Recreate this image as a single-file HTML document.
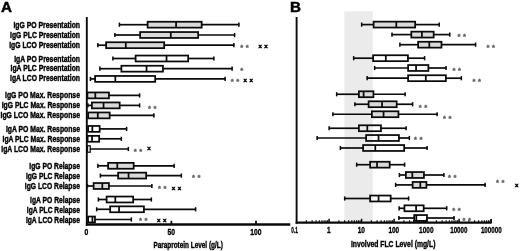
<!DOCTYPE html>
<html lang="en"><head><meta charset="utf-8"><title>Figure</title>
<style>
html,body{margin:0;padding:0;background:#fff;}
body{width:520px;height:251px;overflow:hidden;}
svg{display:block;}
text{font-family:"Liberation Sans", sans-serif;font-weight:bold;fill:#111;}
.lb{font-size:9.7px;fill:#000;stroke:#000;stroke-width:0.45px;}
.tk{font-size:9.6px;text-anchor:middle;fill:#000;stroke:#000;stroke-width:0.35px;}
.ti{font-size:9.4px;fill:#000;stroke:#000;stroke-width:0.4px;}
.pn{font-size:15.2px;fill:#000;stroke:#000;stroke-width:0.5px;}
.st{font-size:7.6px;fill:#606060;stroke:#606060;stroke-width:0.35px;text-anchor:middle;letter-spacing:2.55px;}
.xx{font-size:6.2px;fill:#000;stroke:#000;stroke-width:0.45px;text-anchor:middle;letter-spacing:2.55px;}
.ln line,.ln rect{stroke:#0a0a0a;stroke-width:1.75;}
.ln line.wh{stroke-width:1.7;}.ln line.cp{stroke-width:1.5;}.ln line.xa{stroke-width:2.4;}.ln line.ya{stroke-width:1.9;}
</style></head><body>
<svg width="520" height="251" viewBox="0 0 520 251">
<rect x="0" y="0" width="520" height="251" fill="#ffffff"/>
<rect x="344.4" y="11.3" width="28.4" height="211" fill="#ebebeb"/>
<text class="pn" x="1.1" y="12.0">A</text>
<text class="pn" x="289.9" y="12.0">B</text>
<text class="lb" x="13.4" y="28.20" textLength="66.6" lengthAdjust="spacingAndGlyphs">IgG PO Presentation</text>
<text class="lb" x="10.0" y="37.95" textLength="70.0" lengthAdjust="spacingAndGlyphs">IgG PLC Presentation</text>
<text class="lb" x="9.2" y="47.50" textLength="70.8" lengthAdjust="spacingAndGlyphs">IgG LCO Presentation</text>
<text class="lb" x="14.2" y="61.60" textLength="65.8" lengthAdjust="spacingAndGlyphs">IgA PO Presentation</text>
<text class="lb" x="10.5" y="71.45" textLength="69.5" lengthAdjust="spacingAndGlyphs">IgA PLC Presentation</text>
<text class="lb" x="10.0" y="81.20" textLength="70.0" lengthAdjust="spacingAndGlyphs">IgA LCO Presentation</text>
<text class="lb" x="5.0" y="98.40" textLength="75.0" lengthAdjust="spacingAndGlyphs">IgG PO Max. Response</text>
<text class="lb" x="1.7" y="108.10" textLength="78.3" lengthAdjust="spacingAndGlyphs">IgG PLC Max. Response</text>
<text class="lb" x="0.5" y="118.00" textLength="79.5" lengthAdjust="spacingAndGlyphs">IgG LCO Max. Response</text>
<text class="lb" x="5.9" y="132.40" textLength="74.1" lengthAdjust="spacingAndGlyphs">IgA PO Max. Response</text>
<text class="lb" x="2.5" y="142.10" textLength="77.5" lengthAdjust="spacingAndGlyphs">IgA PLC Max. Response</text>
<text class="lb" x="1.3" y="152.00" textLength="78.7" lengthAdjust="spacingAndGlyphs">IgA LCO Max. Response</text>
<text class="lb" x="29.3" y="168.90" textLength="50.7" lengthAdjust="spacingAndGlyphs">IgG PO Relapse</text>
<text class="lb" x="25.9" y="178.80" textLength="54.1" lengthAdjust="spacingAndGlyphs">IgG PLC Relapse</text>
<text class="lb" x="24.8" y="188.50" textLength="55.2" lengthAdjust="spacingAndGlyphs">IgG LCO Relapse</text>
<text class="lb" x="30.1" y="202.90" textLength="49.9" lengthAdjust="spacingAndGlyphs">IgA PO Relapse</text>
<text class="lb" x="26.8" y="212.80" textLength="53.2" lengthAdjust="spacingAndGlyphs">IgA PLC Relapse</text>
<text class="lb" x="25.9" y="222.50" textLength="54.1" lengthAdjust="spacingAndGlyphs">IgA LCO Relapse</text>
<g class="ln" fill="none">
<line class="wh" x1="119" y1="24.7" x2="147.5" y2="24.7"/>
<line class="cp" x1="119.40" y1="22.599999999999998" x2="119.40" y2="26.8"/>
<line class="wh" x1="201.5" y1="24.7" x2="239.35" y2="24.7"/>
<line class="cp" x1="238.85" y1="22.599999999999998" x2="238.85" y2="26.8"/>
<rect x="147.62" y="21.75" width="54.05" height="5.90" fill="#dadada"/>
<line x1="176.10000000000002" y1="21.75" x2="176.10000000000002" y2="27.65"/>
<line class="wh" x1="114.5" y1="35.0" x2="140.0" y2="35.0"/>
<line class="cp" x1="114.90" y1="32.9" x2="114.90" y2="37.1"/>
<line class="wh" x1="198.0" y1="35.0" x2="235.10" y2="35.0"/>
<line class="cp" x1="234.60" y1="32.9" x2="234.60" y2="37.1"/>
<rect x="140.12" y="32.05" width="58.05" height="5.90" fill="#dadada"/>
<line x1="170.8" y1="32.05" x2="170.8" y2="37.95"/>
<line class="wh" x1="97.5" y1="45.2" x2="106.0" y2="45.2"/>
<line class="cp" x1="97.90" y1="43.1" x2="97.90" y2="47.300000000000004"/>
<line class="wh" x1="164.0" y1="45.2" x2="234.35" y2="45.2"/>
<line class="cp" x1="233.85" y1="43.1" x2="233.85" y2="47.300000000000004"/>
<rect x="106.12" y="42.25" width="58.05" height="5.90" fill="#dadada"/>
<line x1="125.8" y1="42.25" x2="125.8" y2="48.150000000000006"/>
<line class="wh" x1="112.5" y1="58.5" x2="135.5" y2="58.5"/>
<line class="cp" x1="112.90" y1="56.4" x2="112.90" y2="60.6"/>
<line class="wh" x1="188.0" y1="58.5" x2="214.35" y2="58.5"/>
<line class="cp" x1="213.85" y1="56.4" x2="213.85" y2="60.6"/>
<rect x="135.62" y="55.55" width="52.55" height="5.90" fill="none"/>
<line x1="166.55" y1="55.55" x2="166.55" y2="61.45"/>
<line class="wh" x1="99.5" y1="68.7" x2="121.25" y2="68.7"/>
<line class="cp" x1="99.90" y1="66.60000000000001" x2="99.90" y2="70.8"/>
<line class="wh" x1="162.75" y1="68.7" x2="232.60" y2="68.7"/>
<line class="cp" x1="232.10" y1="66.60000000000001" x2="232.10" y2="70.8"/>
<rect x="121.38" y="65.75" width="41.55" height="5.90" fill="none"/>
<line x1="146.55" y1="65.75" x2="146.55" y2="71.65"/>
<line class="wh" x1="90" y1="78.9" x2="95.0" y2="78.9"/>
<line class="cp" x1="90.40" y1="76.80000000000001" x2="90.40" y2="81.0"/>
<line class="wh" x1="155.0" y1="78.9" x2="225.60" y2="78.9"/>
<line class="cp" x1="225.10" y1="76.80000000000001" x2="225.10" y2="81.0"/>
<rect x="95.12" y="75.95" width="60.05" height="5.90" fill="none"/>
<line x1="115.3" y1="75.95" x2="115.3" y2="81.85000000000001"/>
<line class="wh" x1="108.75" y1="95.4" x2="140.10" y2="95.4"/>
<line class="cp" x1="139.60" y1="93.30000000000001" x2="139.60" y2="97.5"/>
<rect x="87.38" y="92.45" width="21.55" height="5.90" fill="#dadada"/>
<line x1="95.3" y1="92.45" x2="95.3" y2="98.35000000000001"/>
<line class="wh" x1="87.5" y1="105.4" x2="91.75" y2="105.4"/>
<line class="cp" x1="87.90" y1="103.30000000000001" x2="87.90" y2="107.5"/>
<line class="wh" x1="119.5" y1="105.4" x2="140.10" y2="105.4"/>
<line class="cp" x1="139.60" y1="103.30000000000001" x2="139.60" y2="107.5"/>
<rect x="91.88" y="102.45" width="27.80" height="5.90" fill="#dadada"/>
<line x1="103.55" y1="102.45" x2="103.55" y2="108.35000000000001"/>
<line class="wh" x1="109.5" y1="115.4" x2="154.35" y2="115.4"/>
<line class="cp" x1="153.85" y1="113.30000000000001" x2="153.85" y2="117.5"/>
<rect x="88.12" y="112.45" width="21.55" height="5.90" fill="#dadada"/>
<line x1="97.8" y1="112.45" x2="97.8" y2="118.35000000000001"/>
<line class="wh" x1="99.5" y1="128.9" x2="127.10" y2="128.9"/>
<line class="cp" x1="126.60" y1="126.80000000000001" x2="126.60" y2="131.0"/>
<rect x="88.12" y="125.95" width="11.55" height="5.90" fill="none"/>
<line x1="92.3" y1="125.95" x2="92.3" y2="131.85"/>
<line class="wh" x1="99.0" y1="138.8" x2="121.85" y2="138.8"/>
<line class="cp" x1="121.35" y1="136.70000000000002" x2="121.35" y2="140.9"/>
<rect x="87.62" y="135.85" width="11.55" height="5.90" fill="none"/>
<line x1="92.05" y1="135.85000000000002" x2="92.05" y2="141.75"/>
<line class="wh" x1="89.8" y1="149.0" x2="128.85" y2="149.0"/>
<line class="cp" x1="128.35" y1="146.9" x2="128.35" y2="151.1"/>
<rect x="87.55" y="145.78" width="2.70" height="6.45" fill="none" style="stroke-width:1.2"/>
<line class="wh" x1="97.5" y1="165.8" x2="108.0" y2="165.8"/>
<line class="cp" x1="97.90" y1="163.70000000000002" x2="97.90" y2="167.9"/>
<line class="wh" x1="133.5" y1="165.8" x2="174.60" y2="165.8"/>
<line class="cp" x1="174.10" y1="163.70000000000002" x2="174.10" y2="167.9"/>
<rect x="108.12" y="162.85" width="25.55" height="5.90" fill="#dadada"/>
<line x1="117.3" y1="162.85000000000002" x2="117.3" y2="168.75"/>
<line class="wh" x1="100" y1="175.6" x2="118.0" y2="175.6"/>
<line class="cp" x1="100.40" y1="173.5" x2="100.40" y2="177.7"/>
<line class="wh" x1="146.0" y1="175.6" x2="181.85" y2="175.6"/>
<line class="cp" x1="181.35" y1="173.5" x2="181.35" y2="177.7"/>
<rect x="118.12" y="172.65" width="28.05" height="5.90" fill="#dadada"/>
<line x1="128.55" y1="172.65" x2="128.55" y2="178.54999999999998"/>
<line class="wh" x1="87" y1="186.0" x2="93.5" y2="186.0"/>
<line class="cp" x1="87.40" y1="183.9" x2="87.40" y2="188.1"/>
<line class="wh" x1="108.75" y1="186.0" x2="152.35" y2="186.0"/>
<line class="cp" x1="151.85" y1="183.9" x2="151.85" y2="188.1"/>
<rect x="93.62" y="183.05" width="15.30" height="5.90" fill="#dadada"/>
<line x1="102.3" y1="183.05" x2="102.3" y2="188.95"/>
<line class="wh" x1="98" y1="199.5" x2="106.5" y2="199.5"/>
<line class="cp" x1="98.40" y1="197.4" x2="98.40" y2="201.6"/>
<line class="wh" x1="133.0" y1="199.5" x2="151.85" y2="199.5"/>
<line class="cp" x1="151.35" y1="197.4" x2="151.35" y2="201.6"/>
<rect x="106.62" y="196.55" width="26.55" height="5.90" fill="none"/>
<line x1="115.3" y1="196.55" x2="115.3" y2="202.45"/>
<line class="wh" x1="96.25" y1="209.3" x2="110.0" y2="209.3"/>
<line class="cp" x1="96.65" y1="207.20000000000002" x2="96.65" y2="211.4"/>
<line class="wh" x1="143.75" y1="209.3" x2="196.10" y2="209.3"/>
<line class="cp" x1="195.60" y1="207.20000000000002" x2="195.60" y2="211.4"/>
<rect x="110.12" y="206.35" width="33.80" height="5.90" fill="none"/>
<line x1="119.05" y1="206.35000000000002" x2="119.05" y2="212.25"/>
<line class="wh" x1="94.8" y1="219.5" x2="131.85" y2="219.5"/>
<line class="cp" x1="131.35" y1="217.4" x2="131.35" y2="221.6"/>
<rect x="88.12" y="216.55" width="6.85" height="5.90" fill="none"/>
<line x1="92.39999999999999" y1="216.55" x2="92.39999999999999" y2="222.45"/>
<line class="wh" x1="361.25" y1="24.6" x2="373.5" y2="24.6"/>
<line class="cp" x1="361.65" y1="22.5" x2="361.65" y2="26.700000000000003"/>
<line class="wh" x1="415.0" y1="24.6" x2="439.70" y2="24.6"/>
<line class="cp" x1="439.20" y1="22.5" x2="439.20" y2="26.700000000000003"/>
<rect x="373.62" y="21.65" width="41.55" height="5.90" fill="#dadada"/>
<line x1="396.3" y1="21.650000000000002" x2="396.3" y2="27.55"/>
<line class="wh" x1="391.6" y1="34.6" x2="411.2" y2="34.6"/>
<line class="cp" x1="392.00" y1="32.5" x2="392.00" y2="36.7"/>
<line class="wh" x1="433.5" y1="34.6" x2="450.20" y2="34.6"/>
<line class="cp" x1="449.70" y1="32.5" x2="449.70" y2="36.7"/>
<rect x="411.32" y="31.65" width="22.35" height="5.90" fill="#dadada"/>
<line x1="421.90000000000003" y1="31.650000000000002" x2="421.90000000000003" y2="37.550000000000004"/>
<line class="wh" x1="399.5" y1="44.7" x2="418.0" y2="44.7"/>
<line class="cp" x1="399.90" y1="42.6" x2="399.90" y2="46.800000000000004"/>
<line class="wh" x1="441.3" y1="44.7" x2="476.10" y2="44.7"/>
<line class="cp" x1="475.60" y1="42.6" x2="475.60" y2="46.800000000000004"/>
<rect x="418.12" y="41.75" width="23.35" height="5.90" fill="#dadada"/>
<line x1="429.3" y1="41.75" x2="429.3" y2="47.650000000000006"/>
<line class="wh" x1="353.25" y1="58.2" x2="373.0" y2="58.2"/>
<line class="cp" x1="353.65" y1="56.1" x2="353.65" y2="60.300000000000004"/>
<line class="wh" x1="407.75" y1="58.2" x2="425.10" y2="58.2"/>
<line class="cp" x1="424.60" y1="56.1" x2="424.60" y2="60.300000000000004"/>
<rect x="373.12" y="55.25" width="34.80" height="5.90" fill="none"/>
<line x1="385.8" y1="55.25" x2="385.8" y2="61.150000000000006"/>
<line class="wh" x1="374.25" y1="68.0" x2="408.0" y2="68.0"/>
<line class="cp" x1="374.65" y1="65.9" x2="374.65" y2="70.1"/>
<line class="wh" x1="428.2" y1="68.0" x2="446.50" y2="68.0"/>
<line class="cp" x1="446.00" y1="65.9" x2="446.00" y2="70.1"/>
<rect x="408.12" y="65.05" width="20.25" height="5.90" fill="none"/>
<line x1="416.05" y1="65.05" x2="416.05" y2="70.95"/>
<line class="wh" x1="366.75" y1="78.2" x2="408.0" y2="78.2"/>
<line class="cp" x1="367.15" y1="76.10000000000001" x2="367.15" y2="80.3"/>
<line class="wh" x1="445.7" y1="78.2" x2="461.85" y2="78.2"/>
<line class="cp" x1="461.35" y1="76.10000000000001" x2="461.35" y2="80.3"/>
<rect x="408.12" y="75.25" width="37.75" height="5.90" fill="none"/>
<line x1="425.8" y1="75.25" x2="425.8" y2="81.15"/>
<line class="wh" x1="336.25" y1="94.25" x2="358.75" y2="94.25"/>
<line class="cp" x1="336.65" y1="92.15" x2="336.65" y2="96.35"/>
<line class="wh" x1="373.25" y1="94.25" x2="405.60" y2="94.25"/>
<line class="cp" x1="405.10" y1="92.15" x2="405.10" y2="96.35"/>
<rect x="358.88" y="91.30" width="14.55" height="5.90" fill="#dadada"/>
<line x1="363.6" y1="91.3" x2="363.6" y2="97.2"/>
<line class="wh" x1="354.5" y1="104.25" x2="368.5" y2="104.25"/>
<line class="cp" x1="354.90" y1="102.15" x2="354.90" y2="106.35"/>
<line class="wh" x1="396.5" y1="104.25" x2="413.10" y2="104.25"/>
<line class="cp" x1="412.60" y1="102.15" x2="412.60" y2="106.35"/>
<rect x="368.62" y="101.30" width="28.05" height="5.90" fill="#dadada"/>
<line x1="382.05" y1="101.3" x2="382.05" y2="107.2"/>
<line class="wh" x1="332.5" y1="114.25" x2="371.75" y2="114.25"/>
<line class="cp" x1="332.90" y1="112.15" x2="332.90" y2="116.35"/>
<line class="wh" x1="398.25" y1="114.25" x2="437.60" y2="114.25"/>
<line class="cp" x1="437.10" y1="112.15" x2="437.10" y2="116.35"/>
<rect x="371.88" y="111.30" width="26.55" height="5.90" fill="#dadada"/>
<line x1="383.55" y1="111.3" x2="383.55" y2="117.2"/>
<line class="wh" x1="328.75" y1="128.25" x2="358.75" y2="128.25"/>
<line class="cp" x1="329.15" y1="126.15" x2="329.15" y2="130.35"/>
<line class="wh" x1="380.75" y1="128.25" x2="406.60" y2="128.25"/>
<line class="cp" x1="406.10" y1="126.15" x2="406.10" y2="130.35"/>
<rect x="358.88" y="125.30" width="22.05" height="5.90" fill="none"/>
<line x1="367.3" y1="125.3" x2="367.3" y2="131.2"/>
<line class="wh" x1="316.75" y1="138.0" x2="366.0" y2="138.0"/>
<line class="cp" x1="317.15" y1="135.9" x2="317.15" y2="140.1"/>
<line class="wh" x1="398.75" y1="138.0" x2="409.85" y2="138.0"/>
<line class="cp" x1="409.35" y1="135.9" x2="409.35" y2="140.1"/>
<rect x="366.12" y="135.05" width="32.80" height="5.90" fill="none"/>
<line x1="378.55" y1="135.05" x2="378.55" y2="140.95"/>
<line class="wh" x1="340" y1="148.0" x2="363.0" y2="148.0"/>
<line class="cp" x1="340.40" y1="145.9" x2="340.40" y2="150.1"/>
<line class="wh" x1="404.0" y1="148.0" x2="427.60" y2="148.0"/>
<line class="cp" x1="427.10" y1="145.9" x2="427.10" y2="150.1"/>
<rect x="363.12" y="145.05" width="41.05" height="5.90" fill="none"/>
<line x1="375.3" y1="145.05" x2="375.3" y2="150.95"/>
<line class="wh" x1="356.25" y1="164.7" x2="370.0" y2="164.7"/>
<line class="cp" x1="356.65" y1="162.6" x2="356.65" y2="166.79999999999998"/>
<line class="wh" x1="389.5" y1="164.7" x2="405.10" y2="164.7"/>
<line class="cp" x1="404.60" y1="162.6" x2="404.60" y2="166.79999999999998"/>
<rect x="370.12" y="161.75" width="19.55" height="5.90" fill="#dadada"/>
<line x1="377.05" y1="161.75" x2="377.05" y2="167.64999999999998"/>
<line class="wh" x1="399" y1="175.0" x2="405.75" y2="175.0"/>
<line class="cp" x1="399.40" y1="172.9" x2="399.40" y2="177.1"/>
<line class="wh" x1="423.75" y1="175.0" x2="444.35" y2="175.0"/>
<line class="cp" x1="443.85" y1="172.9" x2="443.85" y2="177.1"/>
<rect x="405.88" y="172.05" width="18.05" height="5.90" fill="#dadada"/>
<line x1="412.3" y1="172.05" x2="412.3" y2="177.95"/>
<line class="wh" x1="395.25" y1="184.9" x2="412.5" y2="184.9"/>
<line class="cp" x1="395.65" y1="182.8" x2="395.65" y2="187.0"/>
<line class="wh" x1="426.25" y1="184.9" x2="485.60" y2="184.9"/>
<line class="cp" x1="485.10" y1="182.8" x2="485.10" y2="187.0"/>
<rect x="412.62" y="181.95" width="13.80" height="5.90" fill="#dadada"/>
<line x1="420.3" y1="181.95000000000002" x2="420.3" y2="187.85"/>
<line class="wh" x1="344.25" y1="198.5" x2="370.0" y2="198.5"/>
<line class="cp" x1="344.65" y1="196.4" x2="344.65" y2="200.6"/>
<line class="wh" x1="390.5" y1="198.5" x2="409.10" y2="198.5"/>
<line class="cp" x1="408.60" y1="196.4" x2="408.60" y2="200.6"/>
<rect x="370.12" y="195.55" width="20.55" height="5.90" fill="none"/>
<line x1="378.55" y1="195.55" x2="378.55" y2="201.45"/>
<line class="wh" x1="398.75" y1="208.3" x2="404.3" y2="208.3"/>
<line class="cp" x1="399.15" y1="206.20000000000002" x2="399.15" y2="210.4"/>
<line class="wh" x1="423.5" y1="208.3" x2="447.20" y2="208.3"/>
<line class="cp" x1="446.70" y1="206.20000000000002" x2="446.70" y2="210.4"/>
<rect x="404.43" y="205.35" width="19.25" height="5.90" fill="none"/>
<line x1="416.1" y1="205.35000000000002" x2="416.1" y2="211.25"/>
<line class="wh" x1="398.5" y1="218.0" x2="414.1" y2="218.0"/>
<line class="cp" x1="398.90" y1="215.9" x2="398.90" y2="220.1"/>
<line class="wh" x1="426.8" y1="218.0" x2="454.50" y2="218.0"/>
<line class="cp" x1="454.00" y1="215.9" x2="454.00" y2="220.1"/>
<rect x="414.23" y="215.05" width="12.75" height="5.90" fill="none"/>
<line x1="416.3" y1="215.05" x2="416.3" y2="220.95"/>
<line class="ya" x1="86.8" y1="17" x2="86.8" y2="225.6"/>
<line class="xa" x1="85.85" y1="224.45" x2="290.3" y2="224.45"/>
<line x1="171.4" y1="220.8" x2="171.4" y2="224"/>
<line x1="256.0" y1="220.8" x2="256.0" y2="224"/>
<line class="ya" x1="296.6" y1="17" x2="296.6" y2="223.7"/>
<line class="xa" x1="295.65" y1="222.6" x2="491.6" y2="222.6"/>
<line x1="306.38" y1="220.3" x2="306.38" y2="223" style="stroke-width:1.15"/>
<line x1="312.11" y1="220.3" x2="312.11" y2="223" style="stroke-width:1.15"/>
<line x1="316.17" y1="220.3" x2="316.17" y2="223" style="stroke-width:1.15"/>
<line x1="319.32" y1="220.3" x2="319.32" y2="223" style="stroke-width:1.15"/>
<line x1="321.89" y1="220.3" x2="321.89" y2="223" style="stroke-width:1.15"/>
<line x1="324.07" y1="220.3" x2="324.07" y2="223" style="stroke-width:1.15"/>
<line x1="325.95" y1="220.3" x2="325.95" y2="223" style="stroke-width:1.15"/>
<line x1="327.61" y1="220.3" x2="327.61" y2="223" style="stroke-width:1.15"/>
<line x1="329.10" y1="218.8" x2="329.10" y2="223" style="stroke-width:1.5"/>
<line x1="338.88" y1="220.3" x2="338.88" y2="223" style="stroke-width:1.15"/>
<line x1="344.61" y1="220.3" x2="344.61" y2="223" style="stroke-width:1.15"/>
<line x1="348.67" y1="220.3" x2="348.67" y2="223" style="stroke-width:1.15"/>
<line x1="351.82" y1="220.3" x2="351.82" y2="223" style="stroke-width:1.15"/>
<line x1="354.39" y1="220.3" x2="354.39" y2="223" style="stroke-width:1.15"/>
<line x1="356.57" y1="220.3" x2="356.57" y2="223" style="stroke-width:1.15"/>
<line x1="358.45" y1="220.3" x2="358.45" y2="223" style="stroke-width:1.15"/>
<line x1="360.11" y1="220.3" x2="360.11" y2="223" style="stroke-width:1.15"/>
<line x1="361.60" y1="218.8" x2="361.60" y2="223" style="stroke-width:1.5"/>
<line x1="371.38" y1="220.3" x2="371.38" y2="223" style="stroke-width:1.15"/>
<line x1="377.11" y1="220.3" x2="377.11" y2="223" style="stroke-width:1.15"/>
<line x1="381.17" y1="220.3" x2="381.17" y2="223" style="stroke-width:1.15"/>
<line x1="384.32" y1="220.3" x2="384.32" y2="223" style="stroke-width:1.15"/>
<line x1="386.89" y1="220.3" x2="386.89" y2="223" style="stroke-width:1.15"/>
<line x1="389.07" y1="220.3" x2="389.07" y2="223" style="stroke-width:1.15"/>
<line x1="390.95" y1="220.3" x2="390.95" y2="223" style="stroke-width:1.15"/>
<line x1="392.61" y1="220.3" x2="392.61" y2="223" style="stroke-width:1.15"/>
<line x1="394.10" y1="218.8" x2="394.10" y2="223" style="stroke-width:1.5"/>
<line x1="403.88" y1="220.3" x2="403.88" y2="223" style="stroke-width:1.15"/>
<line x1="409.61" y1="220.3" x2="409.61" y2="223" style="stroke-width:1.15"/>
<line x1="413.67" y1="220.3" x2="413.67" y2="223" style="stroke-width:1.15"/>
<line x1="416.82" y1="220.3" x2="416.82" y2="223" style="stroke-width:1.15"/>
<line x1="419.39" y1="220.3" x2="419.39" y2="223" style="stroke-width:1.15"/>
<line x1="421.57" y1="220.3" x2="421.57" y2="223" style="stroke-width:1.15"/>
<line x1="423.45" y1="220.3" x2="423.45" y2="223" style="stroke-width:1.15"/>
<line x1="425.11" y1="220.3" x2="425.11" y2="223" style="stroke-width:1.15"/>
<line x1="426.60" y1="218.8" x2="426.60" y2="223" style="stroke-width:1.5"/>
<line x1="436.38" y1="220.3" x2="436.38" y2="223" style="stroke-width:1.15"/>
<line x1="442.11" y1="220.3" x2="442.11" y2="223" style="stroke-width:1.15"/>
<line x1="446.17" y1="220.3" x2="446.17" y2="223" style="stroke-width:1.15"/>
<line x1="449.32" y1="220.3" x2="449.32" y2="223" style="stroke-width:1.15"/>
<line x1="451.89" y1="220.3" x2="451.89" y2="223" style="stroke-width:1.15"/>
<line x1="454.07" y1="220.3" x2="454.07" y2="223" style="stroke-width:1.15"/>
<line x1="455.95" y1="220.3" x2="455.95" y2="223" style="stroke-width:1.15"/>
<line x1="457.61" y1="220.3" x2="457.61" y2="223" style="stroke-width:1.15"/>
<line x1="459.10" y1="218.8" x2="459.10" y2="223" style="stroke-width:1.5"/>
<line x1="468.88" y1="220.3" x2="468.88" y2="223" style="stroke-width:1.15"/>
<line x1="474.61" y1="220.3" x2="474.61" y2="223" style="stroke-width:1.15"/>
<line x1="478.67" y1="220.3" x2="478.67" y2="223" style="stroke-width:1.15"/>
<line x1="481.82" y1="220.3" x2="481.82" y2="223" style="stroke-width:1.15"/>
<line x1="484.39" y1="220.3" x2="484.39" y2="223" style="stroke-width:1.15"/>
<line x1="486.57" y1="220.3" x2="486.57" y2="223" style="stroke-width:1.15"/>
<line x1="488.45" y1="220.3" x2="488.45" y2="223" style="stroke-width:1.15"/>
<line x1="490.11" y1="220.3" x2="490.11" y2="223" style="stroke-width:1.15"/>
<line x1="491.10" y1="219" x2="491.10" y2="223" />
</g>
<text class="st" x="245.77" y="50.10">**</text>
<text class="xx" x="264.37" y="48.45">xx</text>
<text class="st" x="243.02" y="72.90">*</text>
<text class="st" x="236.25" y="84.20">**</text>
<text class="xx" x="249.50" y="82.40">xx</text>
<text class="st" x="153.62" y="110.50">**</text>
<text class="st" x="139.22" y="153.65">**</text>
<text class="xx" x="150.17" y="150.30">x</text>
<text class="st" x="197.42" y="180.30">**</text>
<text class="st" x="163.47" y="191.30">**</text>
<text class="xx" x="177.72" y="189.65">xx</text>
<text class="st" x="144.52" y="223.30">**</text>
<text class="xx" x="162.95" y="221.80">xx</text>
<text class="st" x="463.12" y="39.25">**</text>
<text class="st" x="491.92" y="49.70">**</text>
<text class="st" x="457.92" y="72.55">**</text>
<text class="st" x="478.02" y="83.50">**</text>
<text class="st" x="424.22" y="109.85">**</text>
<text class="st" x="448.57" y="120.60">**</text>
<text class="st" x="419.52" y="142.20">**</text>
<text class="st" x="453.57" y="180.30">**</text>
<text class="st" x="501.62" y="185.00">**</text>
<text class="xx" x="518.02" y="187.00">x</text>
<text class="st" x="457.82" y="213.00">**</text>
<text class="st" x="468.12" y="223.00">**</text>
<text class="tk" x="86.5" y="234.8" textLength="3.8" lengthAdjust="spacingAndGlyphs">0</text>
<text class="tk" x="171.3" y="234.8" textLength="7.6" lengthAdjust="spacingAndGlyphs">50</text>
<text class="tk" x="255.9" y="234.8" textLength="11.2" lengthAdjust="spacingAndGlyphs">100</text>
<text class="tk" x="294.6" y="233.1" textLength="6.5" lengthAdjust="spacingAndGlyphs">0.1</text>
<text class="tk" x="328.8" y="233.1" textLength="3.6" lengthAdjust="spacingAndGlyphs">1</text>
<text class="tk" x="361.3" y="233.1" textLength="7.2" lengthAdjust="spacingAndGlyphs">10</text>
<text class="tk" x="393.8" y="233.1" textLength="10.8" lengthAdjust="spacingAndGlyphs">100</text>
<text class="tk" x="426.3" y="233.1" textLength="14.4" lengthAdjust="spacingAndGlyphs">1000</text>
<text class="tk" x="458.8" y="233.1" textLength="17.2" lengthAdjust="spacingAndGlyphs">10000</text>
<text class="tk" x="491.3" y="233.1" textLength="20.8" lengthAdjust="spacingAndGlyphs">100000</text>
<text class="ti" x="153.4" y="248.1" textLength="69.4" lengthAdjust="spacingAndGlyphs">Paraprotein Level (g/L)</text>
<text class="ti" x="350.9" y="246.8" textLength="84.5" lengthAdjust="spacingAndGlyphs">Involved FLC Level (mg/L)</text>
</svg>
</body></html>
